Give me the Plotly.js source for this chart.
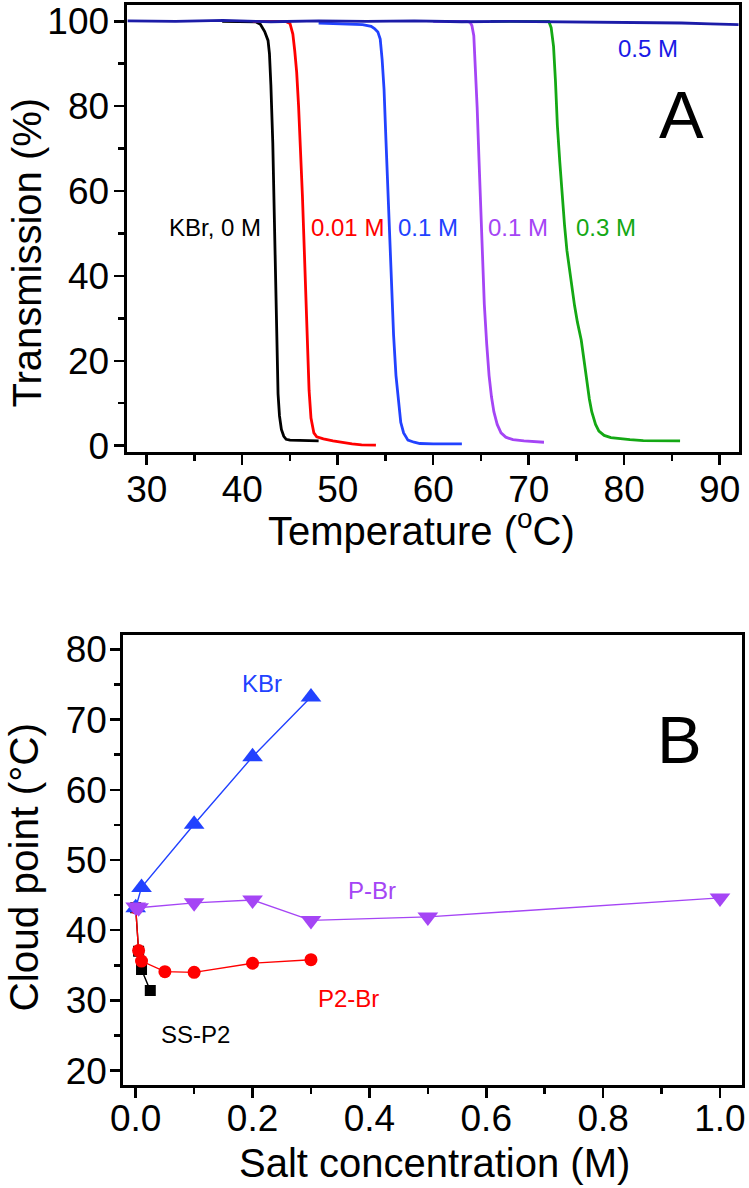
<!DOCTYPE html>
<html>
<head>
<meta charset="utf-8">
<script src="https://cdn.plot.ly/plotly-3.0.1.min.js"></script>
<style>html,body{margin:0;padding:0;background:#fff;}#chart{width:749px;height:1188px;}</style>
</head>
<body>
<div id="chart"></div>
<script>
// ---------- Panel A: transmission (%) vs temperature (°C) ----------
const kbr0_T = [37.9, 39, 40, 41, 41.4, 41.9, 42.35, 42.7, 42.85, 43.0, 43.2, 43.35, 43.5, 43.65, 43.75, 43.9, 44.1, 44.35, 44.6, 45.0, 46, 47, 48.0];
const kbr0_Tr = [100, 100, 100, 100, 99.9, 99.3, 97.6, 95.5, 92.4, 85, 71.3, 55, 37.6, 22, 12.2, 7, 3.8, 2.2, 1.5, 1.3, 1.2, 1.1, 1.1];
const m001_T = [41.1, 43, 44.5, 45.0, 45.3, 45.5, 45.7, 45.9, 46.1, 46.3, 46.5, 46.7, 46.85, 47.0, 47.2, 47.5, 47.8, 48.5, 49.5, 50.5, 51.5, 52.5, 53.3, 54.0];
const m001_Tr = [100, 100, 100, 99.5, 97, 93, 88, 80, 71, 59, 46, 32, 21, 13, 6.5, 3, 2.1, 1.6, 1.1, 0.7, 0.4, 0.2, 0.1, 0.1];
const m01_T = [48.0, 50, 52.6, 53.5, 53.85, 54.2, 54.45, 54.65, 54.85, 55.05, 55.2, 55.4, 55.6, 55.85, 56.1, 56.35, 56.6, 56.9, 57.35, 58, 58.6, 60, 61.5, 63.0];
const m01_Tr = [99.6, 99.5, 99.2, 98.8, 98.3, 97.5, 95.8, 91, 84, 72, 62.9, 50, 37.6, 26, 16.5, 10, 5.5, 3, 1.3, 0.8, 0.5, 0.4, 0.4, 0.4];
const m01b_T = [60, 62, 63.5, 63.85, 64.05, 64.25, 64.4, 64.6, 64.8, 65.0, 65.2, 65.35, 65.6, 65.85, 66.1, 66.35, 66.7, 67.1, 67.6, 68.35, 69.5, 70.5, 71.6];
const m01b_Tr = [100, 100, 100, 99.8, 99, 96.6, 90, 79.7, 67, 54.4, 42, 33.3, 24, 16.5, 11.5, 8, 5, 3, 2, 1.4, 1.1, 0.9, 0.8];
const m03_T = [66, 70, 72.1, 72.35, 72.6, 72.8, 73.0, 73.25, 73.5, 73.75, 74.0, 74.25, 74.5, 74.8, 75.1, 75.5, 75.8, 76.1, 76.35, 76.6, 77.0, 77.35, 77.9, 78.6, 79.5, 80.6, 82, 84, 85.85];
const m03_Tr = [100, 100, 100, 98.5, 94.1, 86, 75.5, 67, 58.6, 52, 46, 41.5, 37.6, 33, 29.1, 24.9, 20, 14.8, 11, 8, 5, 3.4, 2.4, 1.9, 1.6, 1.4, 1.2, 1.1, 1.1];
const m05_T = [28, 33, 38, 43, 48, 53, 58, 63, 68, 73, 78, 82, 86, 89, 92];
const m05_Tr = [100.1, 100.0, 100.2, 99.9, 100.1, 100.0, 100.1, 99.9, 100.0, 99.9, 99.9, 99.8, 99.6, 99.4, 99.2];

const labelsA = ["KBr, 0 M", "0.01 M", "0.1 M", "0.1 M", "0.3 M", "0.5 M"];
const labelsA_x = [37.15, 50.98, 59.5, 68.9, 78.1, 82.5];
const labelsA_y = [51.5, 51.5, 51.5, 51.5, 51.5, 93.7];

// ---------- Panel B: cloud point (°C) vs salt concentration (M) ----------
const ss_c = [0, 0.005, 0.01, 0.025];
const ss_cp = [43.2, 37.0, 34.4, 31.4];
const p2_c = [0, 0.005, 0.01, 0.05, 0.1, 0.2, 0.3];
const p2_cp = [43.2, 37.1, 35.6, 34.1, 34.0, 35.3, 35.8];
const kbr_c = [0, 0.01, 0.1, 0.2, 0.3];
const kbr_cp = [43.2, 46.1, 55.1, 64.7, 73.2];
const pbr_c = [0, 0.005, 0.1, 0.2, 0.3, 0.5, 1.0];
const pbr_cp = [43.3, 43.2, 43.9, 44.3, 41.4, 41.9, 44.6];

const labelsB = ["KBr", "P-Br", "P2-Br", "SS-P2"];
const labelsB_x = [0.217, 0.404, 0.365, 0.103];
const labelsB_y = [75.1, 45.7, 30.3, 25.1];

const W = 749, H = 1188;
const FONT = "Liberation Sans, Arial, Helvetica, sans-serif";
const cBlack = "#000000", cRed = "#ff0000", cBlue = "#2242ff", cPurple = "#a545f5", cGreen = "#14a814", cNavy = "#1c1ca8";
const colA = [cBlack, cRed, cBlue, cPurple, cGreen, "#1a1ae6"];
const colB = [cBlue, cPurple, cRed, cBlack];

function lineA(x, y, color, w) {
  return {x: x, y: y, xaxis: 'x', yaxis: 'y', type: 'scatter', mode: 'lines',
          line: {color: color, width: w || 2.8}, hoverinfo: 'skip'};
}
function ptsB(x, y, color, sym, size) {
  return {x: x, y: y, xaxis: 'x2', yaxis: 'y2', type: 'scatter', mode: 'lines+markers',
          line: {color: color, width: 1.4},
          marker: {color: color, symbol: sym, size: size, line: {width: 0}}, hoverinfo: 'skip'};
}

const data = [
  lineA(kbr0_T, kbr0_Tr, cBlack),
  lineA(m001_T, m001_Tr, cRed),
  lineA(m01_T, m01_Tr, cBlue),
  lineA(m01b_T, m01b_Tr, cPurple),
  lineA(m03_T, m03_Tr, cGreen),
  lineA(m05_T, m05_Tr, cNavy, 2.8),
  ptsB(ss_c, ss_cp, cBlack, 'square', 11),
  ptsB(p2_c, p2_cp, cRed, 'circle', 13),
  ptsB(kbr_c, kbr_cp, cBlue, 'triangle-up', 18),
  ptsB(pbr_c, pbr_cp, cPurple, 'triangle-down', 18)
];

function axisCommon() {
  return {showgrid: false, zeroline: false, showline: true, linecolor: '#000', linewidth: 3, mirror: true,
          ticks: 'outside', ticklen: 10, tickwidth: 2.5, tickcolor: '#000',
          tickfont: {family: FONT, size: 37, color: '#000'}, fixedrange: true};
}
function minorTicks(t0, dt) {
  return {ticks: 'outside', ticklen: 6, tickwidth: 2.5, tickcolor: '#000', tick0: t0, dtick: dt, showgrid: false};
}
const xaxis = Object.assign(axisCommon(), {domain: [126.5 / W, 738.7 / W], anchor: 'y', range: [27.88, 91.99],
  tick0: 30, dtick: 10, ticklabelstandoff: -7, minor: minorTicks(30, 5)});
const yaxis = Object.assign(axisCommon(), {domain: [1 - 452 / H, 1 - 4.5 / H], anchor: 'x', range: [-1.5, 103.96],
  tick0: 0, dtick: 20, ticklabelstandoff: -3, minor: minorTicks(0, 10)});
const xaxis2 = Object.assign(axisCommon(), {domain: [123.3 / W, 742.3 / W], anchor: 'y2', range: [-0.0212, 1.0382],
  tick0: 0, dtick: 0.2, tickformat: '.1f', ticklabelstandoff: -11, minor: minorTicks(0, 0.1)});
const yaxis2 = Object.assign(axisCommon(), {domain: [1 - 1085 / H, 1 - 635 / H], anchor: 'x2', range: [17.96, 82.04],
  tick0: 0, dtick: 10, ticklabelstandoff: -4, minor: minorTicks(0, 5)});

const annotations = [];
labelsA.forEach((t, i) => annotations.push({text: t, x: labelsA_x[i], y: labelsA_y[i], xref: 'x', yref: 'y',
  showarrow: false, xanchor: 'center', yanchor: 'middle', font: {family: FONT, size: 24, color: colA[i]}}));
labelsB.forEach((t, i) => annotations.push({text: t, x: labelsB_x[i], y: labelsB_y[i], xref: 'x2', yref: 'y2',
  showarrow: false, xanchor: 'center', yanchor: 'middle', font: {family: FONT, size: 24, color: colB[i]}}));
annotations.push({text: 'A', x: 86.05, y: 78.1, xref: 'x', yref: 'y', showarrow: false, xanchor: 'center', yanchor: 'middle',
  font: {family: FONT, size: 67, color: '#000'}});
annotations.push({text: 'B', x: 0.931, y: 67.1, xref: 'x2', yref: 'y2', showarrow: false, xanchor: 'center', yanchor: 'middle',
  font: {family: FONT, size: 67, color: '#000'}});
// axis titles
annotations.push({text: 'Temperature (<sup>o</sup>C)', x: 421 / W, y: 1 - 527.5 / H, xref: 'paper', yref: 'paper',
  showarrow: false, xanchor: 'center', yanchor: 'middle', font: {family: FONT, size: 40, color: '#000'}});
annotations.push({text: 'Transmission (%)', x: 26 / W, y: 1 - 252.5 / H, xref: 'paper', yref: 'paper', textangle: -90,
  showarrow: false, xanchor: 'center', yanchor: 'middle', font: {family: FONT, size: 40, color: '#000'}});
annotations.push({text: 'Salt concentration (M)', x: 434.6 / W, y: 1 - 1163 / H, xref: 'paper', yref: 'paper',
  showarrow: false, xanchor: 'center', yanchor: 'middle', font: {family: FONT, size: 40, color: '#000'}});
annotations.push({text: 'Cloud point (°C)', x: 23.5 / W, y: 1 - 867 / H, xref: 'paper', yref: 'paper', textangle: -90,
  showarrow: false, xanchor: 'center', yanchor: 'middle', font: {family: FONT, size: 40.5, color: '#000'}});

const layout = {
  width: W, height: H, margin: {l: 0, r: 0, t: 0, b: 0},
  paper_bgcolor: '#fff', plot_bgcolor: '#fff', showlegend: false,
  xaxis: xaxis, yaxis: yaxis, xaxis2: xaxis2, yaxis2: yaxis2,
  annotations: annotations
};

Plotly.newPlot('chart', data, layout, {staticPlot: true, displayModeBar: false});
</script>
</body>
</html>
